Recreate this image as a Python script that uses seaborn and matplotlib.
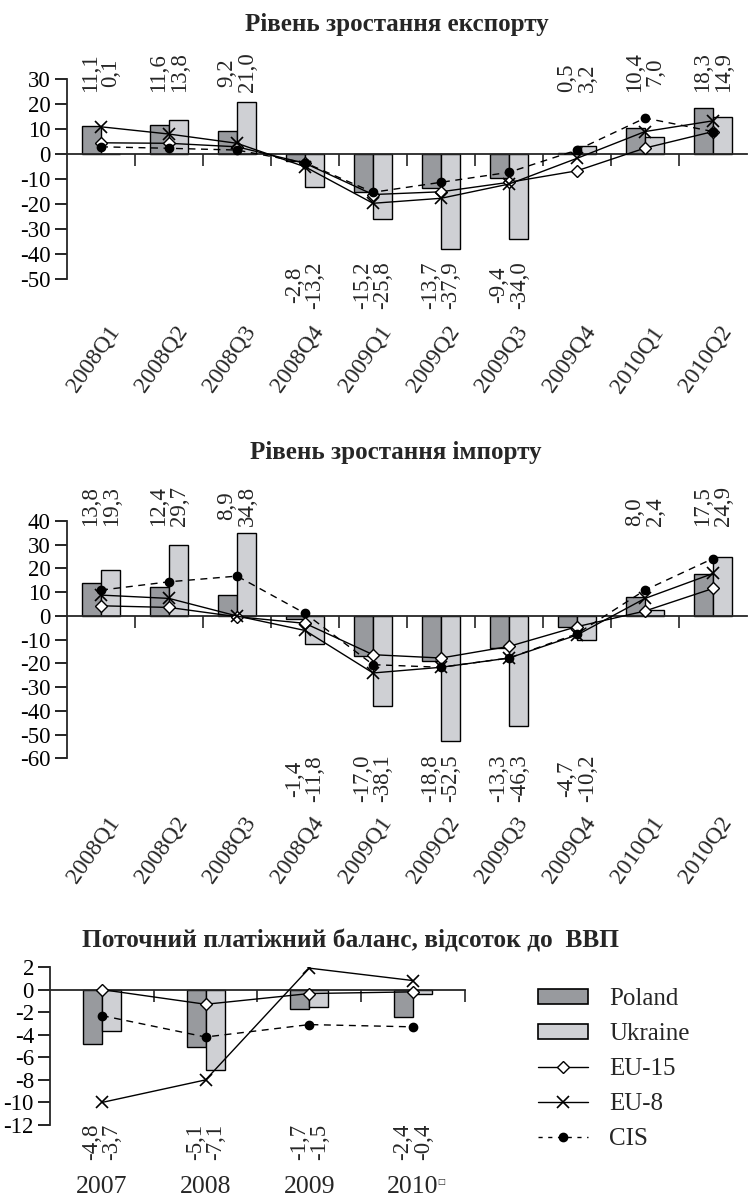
import numpy as np
import pandas as pd
import matplotlib.pyplot as plt
import seaborn as sns
from matplotlib.patches import Patch
from matplotlib.lines import Line2D

# categories
quarters = ['2008Q1', '2008Q2', '2008Q3', '2008Q4', '2009Q1',
            '2009Q2', '2009Q3', '2009Q4', '2010Q1', '2010Q2']
years = ['2007', '2008', '2009', '2010']

# export growth
export_poland = [11.1, 11.6, 9.2, -2.8, -15.2, -13.7, -9.4, 0.5, 10.4, 18.3]
export_ukraine = [0.1, 13.8, 21.0, -13.2, -25.8, -37.9, -34.0, 3.2, 7.0, 14.9]
export_eu15 = [4.5, 4.3, 2.9, -3.7, -16.2, -15.1, -11.3, -6.7, 2.4, 9.0]
export_eu8 = [10.9, 8.0, 4.3, -5.1, -19.7, -17.7, -12.0, -1.7, 9.0, 13.3]
export_cis = [2.9, 2.3, 1.6, -3.5, -15.3, -11.3, -7.3, 1.6, 14.4, 9.0]

# import growth
import_poland = [13.8, 12.4, 8.9, -1.4, -17.0, -18.8, -13.3, -4.7, 8.0, 17.5]
import_ukraine = [19.3, 29.7, 34.8, -11.8, -38.1, -52.5, -46.3, -10.2, 2.4, 24.9]
import_eu15 = [4.3, 3.6, -0.3, -3.1, -16.3, -17.7, -12.8, -4.5, 2.1, 11.6]
import_eu8 = [8.8, 7.4, 0.0, -6.1, -24.0, -21.6, -17.7, -8.0, 7.4, 17.9]
import_cis = [10.9, 14.4, 16.8, 1.1, -20.5, -21.6, -17.7, -7.5, 10.9, 24.2]

# current account, % of GDP
ca_poland = [-4.8, -5.1, -1.7, -2.4]
ca_ukraine = [-3.7, -7.1, -1.5, -0.4]
ca_eu15 = [0.0, -1.3, -0.35, -0.2]
ca_eu8 = [-10.0, -8.0, 1.9, 0.8]
ca_cis = [-2.3, -4.2, -3.1, -3.3]

POLAND_COL = '#989a9e'
UKRAINE_COL = '#cfd0d4'

sns.set_style('ticks')
plt.rcParams['font.family'] = ['Liberation Serif', 'DejaVu Serif']
plt.rcParams['axes.unicode_minus'] = False


def fmt(v):
    return f'{v:.1f}'.replace('.', ',')


def draw_panel(ax, cats, poland, ukraine, eu15, eu8, cis, ylim, ystep,
               bar_width, last_tick, top_y, bottom_y, tick_len):
    n = len(cats)
    df = pd.DataFrame({'cat': cats * 2,
                       'value': poland + ukraine,
                       'country': ['Poland'] * n + ['Ukraine'] * n})
    sns.barplot(data=df, x='cat', y='value', hue='country', order=cats,
                palette=[POLAND_COL, UKRAINE_COL], saturation=1,
                width=bar_width, edgecolor='black', linewidth=1.0,
                errorbar=None, legend=False, ax=ax, zorder=2)
    x = np.arange(n)
    ax.plot(x, eu15, color='black', lw=1.0, marker='D', ms=6.5,
            mfc='white', mec='black', mew=1.0, zorder=4)
    ax.plot(x, eu8, color='black', lw=1.0, marker='x', ms=9,
            mec='black', mew=1.2, zorder=4)
    ax.plot(x, cis, color='black', lw=1.0, ls=(0, (5, 4)), marker='o',
            ms=6, mfc='black', mec='black', zorder=5)

    ax.set_xlim(-0.5, n - 0.5)
    ax.set_ylim(*ylim)
    ax.set_yticks(np.arange(ylim[1], ylim[0] - 1, -ystep))
    ax.set_xticks(np.arange(0.5, last_tick + 0.1, 1.0))
    ax.set_xticklabels([])
    ax.set_xlabel('')
    ax.set_ylabel('')
    ax.spines['top'].set_visible(False)
    ax.spines['right'].set_visible(False)
    ax.spines['bottom'].set_position(('data', 0))
    ax.spines['bottom'].set_linewidth(1.3)
    ax.spines['left'].set_linewidth(1.3)
    ax.spines['bottom'].set_zorder(3)
    ax.tick_params(axis='y', length=tick_len, width=1.2, pad=3,
                   labelsize=16.5, colors='black')
    ax.tick_params(axis='x', length=8.5, width=1.2, direction='out')
    ax.set_facecolor('none')

    tr = ax.get_xaxis_transform()
    for i in range(n):
        txt = fmt(poland[i]) + '\n' + fmt(ukraine[i])
        if max(poland[i], ukraine[i]) > 0:
            ax.text(i, top_y, txt, transform=tr, rotation=90, ha='center',
                    va='bottom', fontsize=16.5, linespacing=0.95,
                    multialignment='center', clip_on=False)
        else:
            ax.text(i, bottom_y, txt, transform=tr, rotation=90,
                    ha='center', va='center', fontsize=16.5, linespacing=0.95,
                    multialignment='center', clip_on=False)


fig = plt.figure(figsize=(7.48, 11.98), dpi=100)

ax1 = fig.add_axes([0.0896, 0.7671, 0.9091, 0.1669])
draw_panel(ax1, quarters, export_poland, export_ukraine, export_eu15,
           export_eu8, export_cis, (-50, 30), 10, 0.56, 8.5,
           0.935, -0.03, 9)

ax2 = fig.add_axes([0.0896, 0.3669, 0.9091, 0.1982])
draw_panel(ax2, quarters, import_poland, import_ukraine, import_eu15,
           import_eu8, import_cis, (-60, 40), 10, 0.56, 8.5,
           0.979, -0.084, 9)

ax3 = fig.add_axes([0.0668, 0.0609, 0.5548, 0.1319])
draw_panel(ax3, years, ca_poland, ca_ukraine, ca_eu15, ca_eu8, ca_cis,
           (-12, 2), 2, 0.366, 3.5, 0.95, -0.108, 8.5)

# rotated quarter labels
for ax, ly in [(ax1, -0.245), (ax2, -0.253)]:
    tr = ax.get_xaxis_transform()
    for i, q in enumerate(quarters):
        ax.text(i + 0.206, ly, q, transform=tr, rotation=55,
                rotation_mode='anchor', ha='right', va='center',
                fontsize=17, clip_on=False)

# year labels
tr3 = ax3.get_xaxis_transform()
for i, yr in enumerate(years):
    ax3.text(i, -0.392, yr, transform=tr3, ha='center', va='center',
             fontsize=18.5, clip_on=False)
ax3.text(3.27, -0.36, '□', transform=tr3, ha='center', va='center',
         fontsize=6, family='DejaVu Sans', clip_on=False)

# titles
fig.text(397 / 748, 1 - 24 / 1198, 'Рівень зростання експорту',
         ha='center', va='center', fontsize=18, fontweight='bold')
fig.text(396 / 748, 1 - 452 / 1198, 'Рівень зростання імпорту',
         ha='center', va='center', fontsize=18, fontweight='bold')
fig.text(350 / 748, 1 - 941 / 1198, 'Поточний платіжний баланс, відсоток до  ВВП',
         ha='center', va='center', fontsize=18.3, fontweight='bold')

# legend
handles = [
    Patch(facecolor=POLAND_COL, edgecolor='black', lw=1.2, label='Poland'),
    Patch(facecolor=UKRAINE_COL, edgecolor='black', lw=1.2, label='Ukraine'),
    Line2D([], [], color='black', lw=1.0, marker='D', ms=6.5, mfc='white',
           mec='black', label='EU-15'),
    Line2D([], [], color='black', lw=1.0, marker='x', ms=9, mew=1.2,
           label='EU-8'),
    Line2D([], [], color='black', lw=1.0, ls=(0, (3, 4)), marker='o', ms=6,
           mfc='black', label='CIS'),
]
fig.legend(handles=handles, loc='upper left', bbox_to_anchor=(0.719, 0.175),
           frameon=False, fontsize=18, handlelength=2.0, handleheight=0.5,
           handletextpad=0.85, labelspacing=0.52, borderpad=0,
           borderaxespad=0)

fig.savefig('out.png', dpi=100)
